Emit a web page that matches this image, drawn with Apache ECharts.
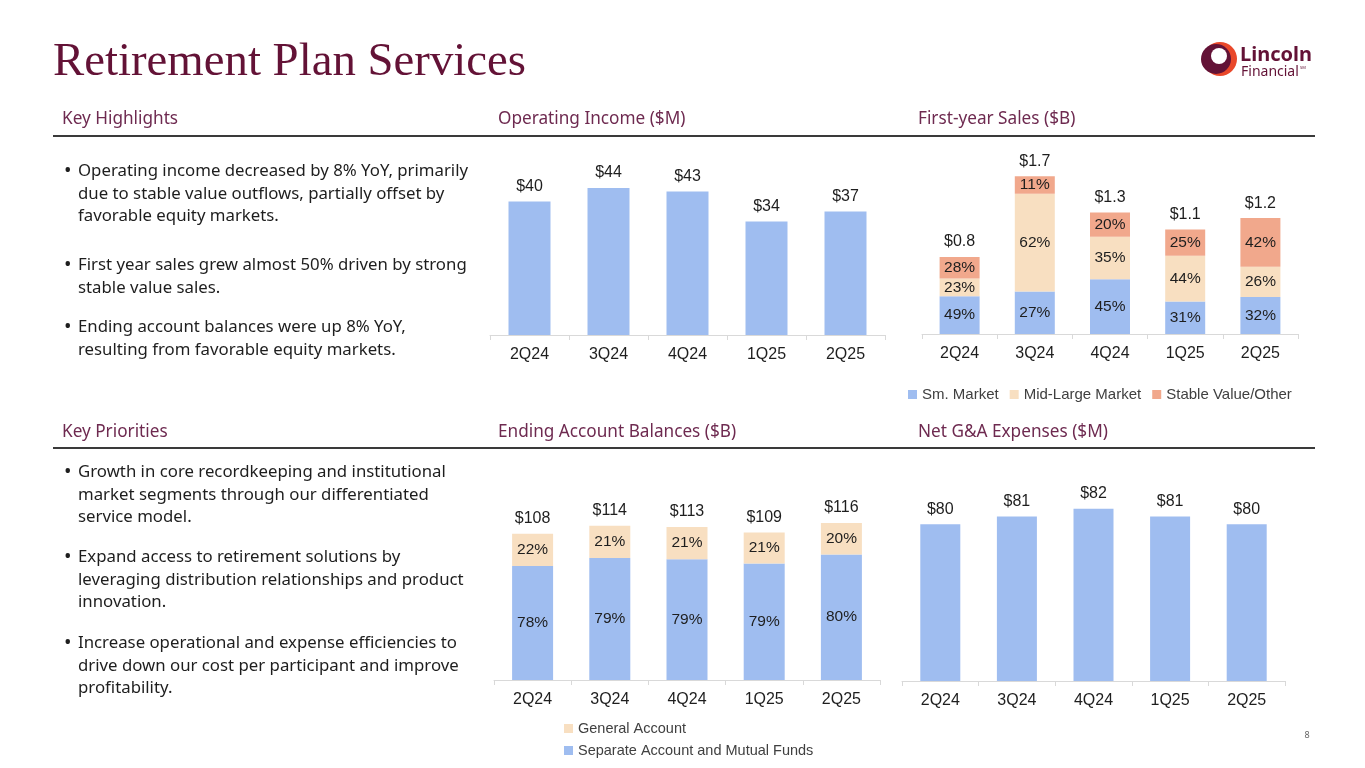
<!DOCTYPE html>
<html lang="en">
<head>
<meta charset="UTF-8">
<title>Retirement Plan Services</title>
<script src="https://cdn.jsdelivr.net/npm/echarts@6/dist/echarts.min.js"></script>
<style>html,body{margin:0;padding:0;background:#fff;}</style>
</head>
<body>
<div id="main" style="width:1365px;height:768px;"></div>
<script type="text/javascript">
// data
var quarters = ['2Q24', '3Q24', '4Q24', '1Q25', '2Q25'];
var opIncome = [40, 44, 43, 34, 37];
var salesTotal = [0.81, 1.66, 1.28, 1.10, 1.22];
var salesSmall = [49, 27, 45, 31, 32];
var salesMidLarge = [23, 62, 35, 44, 26];
var salesStable = [28, 11, 20, 25, 42];
var balTotal = [108, 114, 113, 109, 116];
var balSeparate = [78, 79, 79, 79, 80];
var balGeneral = [22, 21, 21, 21, 20];
var gaExpense = [80.2, 81.2, 82.2, 81.2, 80.2];

var highlights = [
    ['Operating income decreased by 8% YoY, primarily', 'due to stable value outflows, partially offset by', 'favorable equity markets.'],
    ['First year sales grew almost 50% driven by strong', 'stable value sales.'],
    ['Ending account balances were up 8% YoY,', 'resulting from favorable equity markets.']
];
var priorities = [
    ['Growth in core recordkeeping and institutional', 'market segments through our differentiated', 'service model.'],
    ['Expand access to retirement solutions by', 'leveraging distribution relationships and product', 'innovation.'],
    ['Increase operational and expense efficiencies to', 'drive down our cost per participant and improve', 'profitability.']
];

var BLUE = '#9fbdf0', PEACH = '#f8dfc1', SALMON = '#f1a88c';
var MAROON = '#631236', HEAD = '#6e2a50', INK = '#1e1e1e';
var LBL = 'Liberation Sans', BODY = 'Noto Sans';

function share(total, pct) {
    return total.map(function (t, i) { return t * pct[i] / 100; });
}
function pctLabel(arr) {
    return { show: true, position: 'inside', color: INK, fontSize: 15.5, fontFamily: LBL,
        formatter: function (p) { return arr[p.dataIndex] + '%'; } };
}
function topLabel(fmt) {
    return { show: true, position: 'top', distance: 7, color: INK, fontSize: 16, fontFamily: LBL, formatter: fmt };
}
function xAx(idx) {
    return {
        type: 'category', gridIndex: idx, data: quarters,
        axisLine: { lineStyle: { color: '#d9d9d9', width: 1 } },
        axisTick: { show: true, length: 5, lineStyle: { color: '#d9d9d9' } },
        axisLabel: { color: INK, fontSize: 16, fontFamily: LBL, margin: 12 }
    };
}
function yAx(idx, min, max) {
    return { type: 'value', gridIndex: idx, min: min, max: max, show: false, splitLine: { show: false } };
}

// text blocks
var graphics = [];
function txt(x, y, s, font, fill, align) {
    graphics.push({ type: 'text', x: x, y: y, silent: true,
        style: { text: s, font: font, fill: fill, textAlign: align || 'left', textVerticalAlign: 'middle' } });
}
function bullets(list, starts) {
    list.forEach(function (lines, i) {
        txt(64, starts[i], '\u2022', '20px "' + BODY + '"', INK);
        lines.forEach(function (line, j) {
            txt(78, starts[i] + j * 22.8, line, '16.8px "' + BODY + '"', INK);
        });
    });
}

txt(53, 63, 'Retirement Plan Services', '46.8px "Liberation Serif"', MAROON);
var headFont = '17.2px "' + BODY + '"';
txt(62, 119, 'Key Highlights', headFont, HEAD);
txt(498, 119, 'Operating Income ($M)', headFont, HEAD);
txt(918, 119, 'First-year Sales ($B)', headFont, HEAD);
txt(62, 432, 'Key Priorities', headFont, HEAD);
txt(498, 432, 'Ending Account Balances ($B)', headFont, HEAD);
txt(918, 432, 'Net G&A Expenses ($M)', headFont, HEAD);
graphics.push({ type: 'line', silent: true, shape: { x1: 53, y1: 136, x2: 1315, y2: 136 }, style: { stroke: '#3a3a3a', lineWidth: 2 } });
graphics.push({ type: 'line', silent: true, shape: { x1: 53, y1: 448, x2: 1315, y2: 448 }, style: { stroke: '#3a3a3a', lineWidth: 2 } });
bullets(highlights, [171, 265, 327]);
bullets(priorities, [472, 557, 643]);
txt(1307, 735, '8', '9px "' + BODY + '"', '#666666', 'center');

// logo
graphics.push({ type: 'circle', silent: true, shape: { cx: 1220, cy: 59, r: 17 }, style: { fill: '#e9482a' } });
graphics.push({ type: 'circle', silent: true, shape: { cx: 1216, cy: 59, r: 15 }, style: { fill: MAROON } });
graphics.push({ type: 'circle', silent: true, shape: { cx: 1219, cy: 56, r: 8 }, style: { fill: '#ffffff' } });
txt(1240, 55, 'Lincoln', 'bold 20px "' + BODY + '"', MAROON);
txt(1241, 72, 'Financial', '14px "' + BODY + '"', MAROON);
txt(1300, 68, 'SM', '4px "' + BODY + '"', MAROON);

var myChart = echarts.init(document.getElementById('main'));

var option = {
    backgroundColor: '#ffffff',
    animation: false,
    graphic: graphics,
    legend: [{
        data: ['Sm. Market', 'Mid-Large Market', 'Stable Value/Other'],
        left: 903, top: 382, icon: 'rect', itemWidth: 9, itemHeight: 9, itemGap: 11,
        textStyle: { color: '#404040', fontSize: 15, fontFamily: LBL }, selectedMode: false
    }, {
        data: ['General Account', 'Separate Account and Mutual Funds'],
        orient: 'vertical', left: 559, top: 716, icon: 'rect', itemWidth: 9, itemHeight: 9, itemGap: 7,
        textStyle: { color: '#404040', fontSize: 14.5, fontFamily: LBL }, selectedMode: false
    }],
    grid: [
        { left: 490, top: 168, width: 395, height: 167 },
        { left: 922, top: 144, width: 376, height: 190 },
        { left: 494, top: 477, width: 386, height: 203 },
        { left: 902, top: 487, width: 383, height: 194 }
    ],
    xAxis: [xAx(0), xAx(1), xAx(2), xAx(3)],
    yAxis: [yAx(0, 0, 50), yAx(1, 0, 2), yAx(2, 0, 150), yAx(3, 60, 85)],
    series: [
        { type: 'bar', name: 'Operating Income', xAxisIndex: 0, yAxisIndex: 0, data: opIncome, barWidth: 42,
          itemStyle: { color: BLUE }, label: topLabel(function (p) { return '$' + p.value; }) },

        { type: 'bar', name: 'Sm. Market', xAxisIndex: 1, yAxisIndex: 1, stack: 'fys', barWidth: 40,
          data: share(salesTotal, salesSmall), itemStyle: { color: BLUE }, label: pctLabel(salesSmall) },
        { type: 'bar', name: 'Mid-Large Market', xAxisIndex: 1, yAxisIndex: 1, stack: 'fys', barWidth: 40,
          data: share(salesTotal, salesMidLarge), itemStyle: { color: PEACH }, label: pctLabel(salesMidLarge) },
        { type: 'bar', name: 'Stable Value/Other', xAxisIndex: 1, yAxisIndex: 1, stack: 'fys', barWidth: 40,
          data: share(salesTotal, salesStable), itemStyle: { color: SALMON }, label: pctLabel(salesStable) },
        { type: 'scatter', name: 'sales total', xAxisIndex: 1, yAxisIndex: 1, data: salesTotal, symbolSize: 0,
          itemStyle: { color: INK, opacity: 1 }, silent: true,
          label: topLabel(function (p) { return '$' + p.value.toFixed(1); }) },

        { type: 'bar', name: 'Separate Account and Mutual Funds', xAxisIndex: 2, yAxisIndex: 2, stack: 'bal', barWidth: 41,
          data: share(balTotal, balSeparate), itemStyle: { color: BLUE }, label: pctLabel(balSeparate) },
        { type: 'bar', name: 'General Account', xAxisIndex: 2, yAxisIndex: 2, stack: 'bal', barWidth: 41,
          data: share(balTotal, balGeneral), itemStyle: { color: PEACH }, label: pctLabel(balGeneral) },
        { type: 'scatter', name: 'balance total', xAxisIndex: 2, yAxisIndex: 2, data: balTotal, symbolSize: 0,
          itemStyle: { color: INK, opacity: 1 }, silent: true,
          label: topLabel(function (p) { return '$' + p.value; }) },

        { type: 'bar', name: 'Net G&A', xAxisIndex: 3, yAxisIndex: 3, data: gaExpense, barWidth: 40,
          itemStyle: { color: BLUE }, label: topLabel(function (p) { return '$' + Math.round(p.value); }) }
    ]
};

myChart.setOption(option);
</script>
</body>
</html>
